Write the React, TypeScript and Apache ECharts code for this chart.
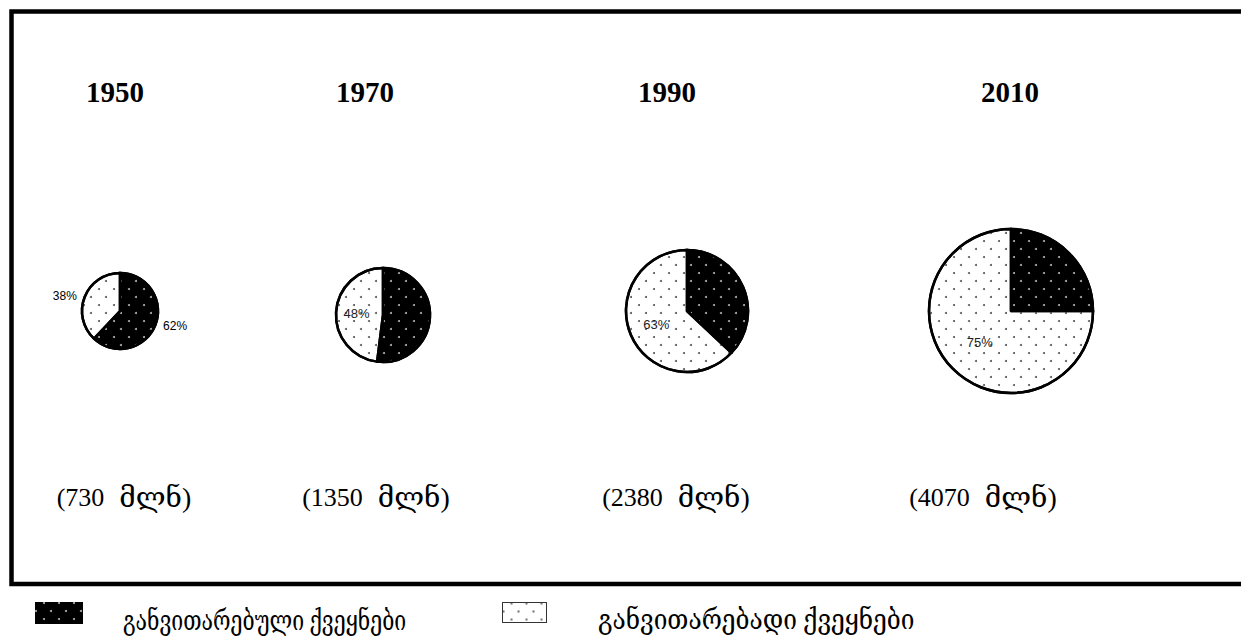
import React, { useEffect, useRef } from 'react';
import * as echarts from 'echarts';

const years = ['1950', '1970', '1990', '2010'];
const totals = ['730', '1350', '2380', '4070'];
const unit = 'მლნ';
const groupNames = ['განვითარებული ქვეყნები', 'განვითარებადი ქვეყნები'];
const developed = [62, 52, 37, 25];
const developing = [38, 48, 63, 75];

// layout (pixels)
const centers = [[120, 311], [383, 315], [687, 311], [1011, 311]];
const radii = [38, 47, 61, 82];
const yearX = [115, 365, 667, 1010];
const totalX = [124, 376, 676, 983];
const legendIconX = [30, 497];
const legendIconW = [48, 44];
const legendIconH = [22, 20];
const legendTextX = [123, 598];
const legendTextScale = [0.76, 0.875];

const serif = "'Liberation Serif', 'DejaVu Serif', serif";
const sans = "'Liberation Sans', Arial, sans-serif";

const dotDecal = (color: string) => ({
  symbol: 'circle',
  symbolSize: 1,
  color,
  dashArrayX: [[2, 13], [0, 8, 2, 5]],
  dashArrayY: [2, 6],
  rotation: 0,
});

export default function App() {
  const ref = useRef<HTMLDivElement>(null);
  useEffect(() => {
    if (!ref.current) return;
    const chart = echarts.init(ref.current, null, { renderer: 'svg' });
    const graphic: any[] = [
      {
        type: 'rect',
        silent: true,
        z: 0,
        shape: { x: 11.5, y: 11.5, width: 1300, height: 572.5 },
        style: { fill: 'none', stroke: '#000', lineWidth: 4.5 },
      },
    ];
    years.forEach((y, i) => {
      graphic.push({
        type: 'text',
        silent: true,
        x: yearX[i],
        y: 92,
        style: {
          text: y,
          fontFamily: serif,
          fontWeight: 'bold',
          fontSize: 29,
          fill: '#000',
          align: 'center',
          verticalAlign: 'middle',
        },
      });
      graphic.push({
        type: 'text',
        silent: true,
        x: totalX[i],
        y: 497,
        style: {
          text: '{n|(' + totals[i] + '}{s| }{g|' + unit + ')}',
          fill: '#000',
          align: 'center',
          verticalAlign: 'middle',
          rich: {
            n: { fontFamily: serif, fontSize: 26, fill: '#000' },
            s: { fontFamily: serif, fontSize: 26, width: 15 },
            g: { fontFamily: serif, fontSize: 28, fill: '#000' },
          },
        },
      });
    });
    groupNames.forEach((g, i) => {
      graphic.push({
        type: 'text',
        silent: true,
        x: legendTextX[i],
        y: 620,
        scaleX: legendTextScale[i],
        style: {
          text: g,
          fontFamily: serif,
          fontSize: 28,
          fill: '#000',
          align: 'left',
          verticalAlign: 'middle',
        },
      });
    });

    const series = years.map((y, i) => ({
      type: 'pie',
      name: y,
      center: centers[i],
      radius: radii[i],
      startAngle: 90,
      clockwise: true,
      silent: true,
      avoidLabelOverlap: false,
      itemStyle: { borderColor: '#000', borderWidth: 2.5 },
      label:
        i === 0
          ? { show: true, position: 'outside', formatter: '{c}%', fontSize: 12, fontFamily: sans, color: '#000' }
          : { show: true, position: 'inside', formatter: '{c}%', fontSize: 13, fontFamily: sans, color: '#222' },
      labelLine: { show: false, length: 3, length2: 0 },
      data: [
        {
          name: groupNames[0],
          value: developed[i],
          itemStyle: { color: '#000', decal: dotDecal('#b4b4b4') },
          label: i === 0 ? {} : { show: false },
        },
        {
          name: groupNames[1],
          value: developing[i],
          itemStyle: { color: '#fff', decal: dotDecal('#555') },
        },
      ],
    }));

    chart.setOption({
      animation: false,
      backgroundColor: '#fff',
      legend: groupNames.map((g, i) => ({
        left: legendIconX[i],
        top: 597,
        icon: 'rect',
        itemWidth: legendIconW[i],
        itemHeight: legendIconH[i],
        selectedMode: false,
        data: [g],
        formatter: () => '',
        itemStyle: i === 0 ? { borderWidth: 0 } : { borderWidth: 1, borderColor: '#333' },
        textStyle: { fontSize: 1 },
      })),
      graphic,
      series,
    });
    return () => chart.dispose();
  }, []);
  return (
    <div
      ref={ref}
      style={{ position: 'fixed', left: 0, top: 0, width: 1241, height: 638, background: '#fff' }}
    />
  );
}
